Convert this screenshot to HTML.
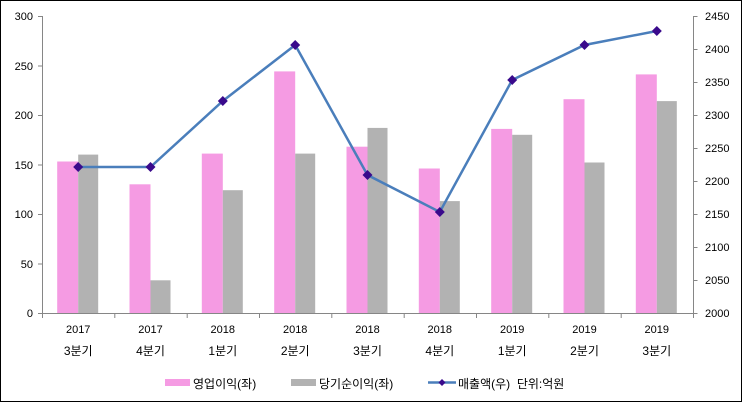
<!DOCTYPE html>
<html><head><meta charset="utf-8"><style>
html,body{margin:0;padding:0;background:#fff}
svg{display:block}
text{font-family:"Liberation Sans","Noto Sans CJK KR",sans-serif;font-size:11px;fill:#000}
.k{font-size:12px}
</style></head><body>
<svg width="743" height="403" viewBox="0 0 743 403">
<rect x="0.5" y="0.5" width="741" height="401" fill="#fff" stroke="#000" stroke-width="1"/>
<g fill="#f59be3">
<rect x="57.2" y="161.5" width="21" height="151.5"/>
<rect x="129.5" y="184.3" width="21" height="128.7"/>
<rect x="201.8" y="153.6" width="21" height="159.4"/>
<rect x="274.2" y="71.4" width="21" height="241.6"/>
<rect x="346.5" y="146.7" width="21" height="166.3"/>
<rect x="418.8" y="168.5" width="21" height="144.5"/>
<rect x="491.2" y="128.9" width="21" height="184.1"/>
<rect x="563.5" y="99.2" width="21" height="213.8"/>
<rect x="635.8" y="74.4" width="21" height="238.6"/>
</g>
<g fill="#b2b2b2">
<rect x="78.2" y="154.6" width="20" height="158.4"/>
<rect x="150.5" y="280.3" width="20" height="32.7"/>
<rect x="222.8" y="190.2" width="20" height="122.8"/>
<rect x="295.2" y="153.6" width="20" height="159.4"/>
<rect x="367.5" y="127.9" width="20" height="185.1"/>
<rect x="439.8" y="201.1" width="20" height="111.9"/>
<rect x="512.2" y="134.8" width="20" height="178.2"/>
<rect x="584.5" y="162.5" width="20" height="150.5"/>
<rect x="656.8" y="101.1" width="20" height="211.9"/>
</g>
<g stroke="#868686" stroke-width="1" fill="none">
<path d="M42.5 16V313.5H693.5V16"/>
<path d="M38 16.5h4.5M38 66h4.5M38 115.5h4.5M38 165h4.5M38 214.5h4.5M38 264h4.5M38 313.5h4.5"/>
<path d="M693.5 16.5h4M693.5 49.5h4M693.5 82.5h4M693.5 115.5h4M693.5 148.5h4M693.5 181.5h4M693.5 214.5h4M693.5 247.5h4M693.5 280.5h4M693.5 313.5h4"/>
<path d="M42.5 313v5M114.8 313v5M187.2 313v5M259.5 313v5M331.8 313v5M404.2 313v5M476.5 313v5M548.8 313v5M621.2 313v5M693.5 313v5"/>
</g>
<g text-anchor="end">
<text x="33" y="20">300</text><text x="33" y="70">250</text><text x="33" y="119">200</text><text x="33" y="169">150</text><text x="33" y="218">100</text><text x="33" y="268">50</text><text x="33" y="317">0</text>
</g>
<g>
<text x="705" y="20">2450</text><text x="705" y="53">2400</text><text x="705" y="86">2350</text><text x="705" y="119">2300</text><text x="705" y="152">2250</text><text x="705" y="185">2200</text><text x="705" y="218">2150</text><text x="705" y="251">2100</text><text x="705" y="284">2050</text><text x="705" y="317">2000</text>
</g>
<g text-anchor="middle">
<text x="78.2" y="333">2017</text><text class="k" x="78.2" y="355">3분기</text>
<text x="150.5" y="333">2017</text><text class="k" x="150.5" y="355">4분기</text>
<text x="222.8" y="333">2018</text><text class="k" x="222.8" y="355">1분기</text>
<text x="295.2" y="333">2018</text><text class="k" x="295.2" y="355">2분기</text>
<text x="367.5" y="333">2018</text><text class="k" x="367.5" y="355">3분기</text>
<text x="439.8" y="333">2018</text><text class="k" x="439.8" y="355">4분기</text>
<text x="512.2" y="333">2019</text><text class="k" x="512.2" y="355">1분기</text>
<text x="584.5" y="333">2019</text><text class="k" x="584.5" y="355">2분기</text>
<text x="656.8" y="333">2019</text><text class="k" x="656.8" y="355">3분기</text>
</g>
<polyline fill="none" stroke="#4a7ebb" stroke-width="2.5" points="78.2,167 150.5,167 222.8,101 295.2,45 367.5,175 439.8,212 512.2,80 584.5,45 656.8,31"/>
<g fill="#3a0a8c">
<path d="M78.2 162l5 5-5 5-5-5z"/><path d="M150.5 162l5 5-5 5-5-5z"/><path d="M222.8 96l5 5-5 5-5-5z"/><path d="M295.2 40l5 5-5 5-5-5z"/><path d="M367.5 170l5 5-5 5-5-5z"/><path d="M439.8 207l5 5-5 5-5-5z"/><path d="M512.2 75l5 5-5 5-5-5z"/><path d="M584.5 40l5 5-5 5-5-5z"/><path d="M656.8 26l5 5-5 5-5-5z"/>
</g>
<rect x="165" y="379" width="25" height="7" fill="#f59be3"/>
<text class="k" x="193" y="388">영업이익(좌)</text>
<rect x="291" y="379" width="25" height="7" fill="#b2b2b2"/>
<text class="k" x="319" y="388">당기순이익(좌)</text>
<line x1="428" y1="382.5" x2="456" y2="382.5" stroke="#4a7ebb" stroke-width="2.5"/>
<path d="M442 379l3.5 3.5-3.5 3.5-3.5-3.5z" fill="#3a0a8c"/>
<text class="k" x="458" y="388" xml:space="preserve">매출액(우)  단위:억원</text>
</svg>
</body></html>
